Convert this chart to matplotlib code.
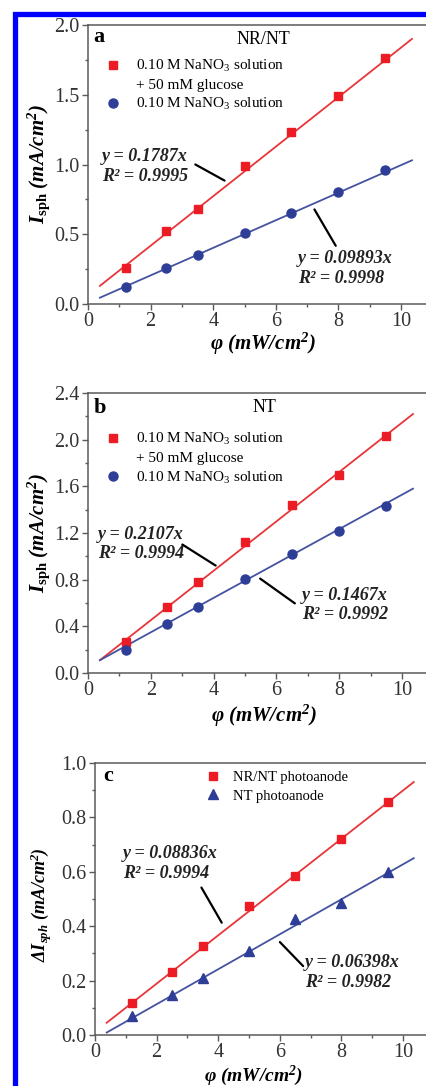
import matplotlib
matplotlib.use("Agg")
import matplotlib.pyplot as plt
from matplotlib.lines import Line2D
from matplotlib.patches import Rectangle
from matplotlib.ticker import MultipleLocator, AutoMinorLocator

plt.rcParams['font.family'] = ['Liberation Serif', 'DejaVu Serif']
plt.rcParams['mathtext.fontset'] = 'custom'
plt.rcParams['mathtext.rm'] = 'Liberation Serif'
plt.rcParams['mathtext.it'] = 'Liberation Serif:italic'
plt.rcParams['mathtext.bf'] = 'Liberation Serif:bold'
plt.rcParams['mathtext.bfit'] = 'Liberation Serif:bold:italic'

# light intensity (mW/cm2)
phi = [1.2, 2.5, 3.5, 5.0, 6.5, 8.0, 9.5]

# a: NR/NT
a_glucose = [0.26, 0.52, 0.68, 0.99, 1.23, 1.49, 1.76]
a_nano3 = [0.12, 0.26, 0.35, 0.51, 0.65, 0.80, 0.96]
# b: NT
b_glucose = [0.27, 0.57, 0.78, 1.12, 1.44, 1.70, 2.03]
b_nano3 = [0.20, 0.42, 0.57, 0.81, 1.02, 1.22, 1.43]
# c: difference
c_nrnt = [0.117, 0.23, 0.327, 0.476, 0.583, 0.72, 0.856]
c_nt = [0.07, 0.147, 0.209, 0.31, 0.426, 0.485, 0.60]

# fitted lines (end points)
fit_x = [0.38, 10.35]
a_fit_red = [0.13, 1.90]
a_fit_blue = [0.045, 1.03]
b_fit_red = [0.11, 2.22]
b_fit_blue = [0.11, 1.58]
c_fit_red = [0.045, 0.93]
c_fit_blue = [0.009, 0.65]

RED = '#ec1c24'
RED_LINE = '#e8353a'
BLUE = '#2e3d96'
BLUE_LINE = '#4353a0'
SPINE = '#5a5a5a'

W, H = 426, 1086
fig = plt.figure(figsize=(W / 100, H / 100), dpi=100)


def px_axes(left, top, bottom, per_unit, xmax=11):
    width = per_unit * xmax
    return fig.add_axes([left / W, (H - bottom) / H, width / W, (bottom - top) / H])


def style(ax, ymax, ymaj):
    ax.set_xlim(0, 11)
    ax.set_ylim(0, ymax)
    ax.xaxis.set_major_locator(MultipleLocator(2))
    ax.xaxis.set_minor_locator(AutoMinorLocator(2))
    ax.yaxis.set_major_locator(MultipleLocator(ymaj))
    ax.yaxis.set_minor_locator(AutoMinorLocator(2))
    ax.tick_params(which='major', direction='out', length=4, width=1, color=SPINE,
                   labelsize=14.5, pad=2, labelcolor='#333333')
    ax.tick_params(which='minor', direction='out', length=2.5, width=1, color=SPINE)
    for s in ax.spines.values():
        s.set_color(SPINE)
        s.set_linewidth(1.1)
    ax.set_xticks([0, 2, 4, 6, 8, 10])


def fit_note(ax, text, txy, line_from, line_to):
    ax.text(txy[0], txy[1], text, fontsize=13, fontweight='bold', style='italic',
            ha='left', va='center', linespacing=1.2, color='#222222')
    ax.annotate('', xy=line_to, xytext=line_from,
                arrowprops=dict(arrowstyle='-', color='black', lw=1.6))


xlab = r'$\mathbfit{\varphi\ (mW/cm^{2})}$'
ylab = r'$\mathbfit{I}_{\mathbf{sph}}\ \mathbfit{(mA/cm^{2})}$'

leg_labels = ['0.10 M NaNO$_3$ solution', '+ 50 mM glucose', '0.10 M NaNO$_3$ solution']


def solution_legend(ax, top):
    handles = [Line2D([], [], marker='s', color=RED, ls='none', ms=6),
               Line2D([], [], ls='none'),
               Line2D([], [], marker='o', color=BLUE, ls='none', ms=6.5)]
    ax.legend(handles, leg_labels, loc='upper left', bbox_to_anchor=(0.051, top),
              frameon=False, fontsize=11, handlelength=1.0, handletextpad=1.0,
              labelspacing=0.28, borderpad=0, borderaxespad=0)


# ---------- a ----------
ax1 = px_axes(88, 25, 304, 31.3)
style(ax1, 2.0, 0.5)
ax1.plot(fit_x, a_fit_red, color=RED_LINE, lw=1.3)
ax1.plot(fit_x, a_fit_blue, color=BLUE_LINE, lw=1.3)
ax1.plot(phi, a_glucose, 's', color=RED, ms=6, ls='none')
ax1.plot(phi, a_nano3, 'o', color=BLUE, ms=6.5, ls='none')
ax1.text(0.015, 0.957, 'a', transform=ax1.transAxes, fontsize=16, fontweight='bold', va='center')
ax1.text(0.509, 0.948, 'NR/NT', transform=ax1.transAxes, fontsize=13, ha='center', va='center')
ax1.set_ylabel(ylab, fontsize=15)
ax1.yaxis.set_label_coords(-0.105, 0.5)
ax1.set_xlabel(xlab, fontsize=15)
ax1.xaxis.set_label_coords(0.509, -0.095)
fit_note(ax1, 'y = 0.1787x\nR² = 0.9995', (0.45, 0.985), (3.35, 1.01), (4.44, 0.875))
fit_note(ax1, 'y = 0.09893x\nR² = 0.9998', (6.7, 0.255), (7.19, 0.695), (7.96, 0.40))
solution_legend(ax1, 0.882)

# ---------- b ----------
ax2 = px_axes(88, 393, 673, 31.4)
style(ax2, 2.4, 0.4)
ax2.plot(fit_x, b_fit_red, color=RED_LINE, lw=1.3)
ax2.plot(fit_x, b_fit_blue, color=BLUE_LINE, lw=1.3)
ax2.plot(phi, b_glucose, 's', color=RED, ms=6, ls='none')
ax2.plot(phi, b_nano3, 'o', color=BLUE, ms=6.5, ls='none')
ax2.text(0.015, 0.945, 'b', transform=ax2.transAxes, fontsize=16, fontweight='bold', va='center')
ax2.text(0.51, 0.95, 'NT', transform=ax2.transAxes, fontsize=13, ha='center', va='center')
ax2.set_ylabel(ylab, fontsize=15)
ax2.yaxis.set_label_coords(-0.105, 0.5)
ax2.set_xlabel(xlab, fontsize=15)
ax2.xaxis.set_label_coords(0.51, -0.105)
fit_note(ax2, 'y = 0.2107x\nR² = 0.9994', (0.32, 1.105), (2.93, 1.114), (4.14, 0.908))
fit_note(ax2, 'y = 0.1467x\nR² = 0.9992', (6.82, 0.583), (5.41, 0.823), (6.66, 0.583))
solution_legend(ax2, 0.864)

# ---------- c ----------
ax3 = px_axes(95, 763, 1035, 30.8)
style(ax3, 1.0, 0.2)
ax3.plot(fit_x, c_fit_red, color=RED_LINE, lw=1.3)
ax3.plot(fit_x, c_fit_blue, color=BLUE_LINE, lw=1.3)
ax3.plot(phi, c_nrnt, 's', color=RED, ms=6, ls='none')
ax3.plot(phi, c_nt, '^', color=BLUE, ms=6.5, ls='none')
ax3.text(0.024, 0.952, 'c', transform=ax3.transAxes, fontsize=16, fontweight='bold', va='center')
ax3.set_ylabel(r'$\mathbfit{\Delta I_{sph}\ (mA/cm^{2})}$', fontsize=13)
ax3.yaxis.set_label_coords(-0.12, 0.48)
ax3.set_xlabel(xlab, fontsize=14)
ax3.xaxis.set_label_coords(0.469, -0.104)
fit_note(ax3, 'y = 0.08836x\nR² = 0.9994', (0.91, 0.63), (3.41, 0.551), (4.16, 0.404))
fit_note(ax3, 'y = 0.06398x\nR² = 0.9982', (6.82, 0.23), (5.94, 0.349), (6.82, 0.246))
ax3.legend([Line2D([], [], marker='s', color=RED, ls='none', ms=6),
            Line2D([], [], marker='^', color=BLUE, ls='none', ms=6.5)],
           ['NR/NT photoanode', 'NT photoanode'], loc='upper left',
           bbox_to_anchor=(0.327, 0.97), frameon=False, fontsize=10.5,
           handlelength=1.0, handletextpad=0.9, labelspacing=0.34,
           borderpad=0, borderaxespad=0)

# blue frame around the figure (cut at right and bottom)
fig.add_artist(Rectangle((15.5 / W, -0.05), 1.2, (H - 13.5) / H + 0.05,
                         transform=fig.transFigure, fill=False,
                         edgecolor='#0000ff', lw=3.8, clip_on=False))

fig.savefig('out.png', dpi=100)
